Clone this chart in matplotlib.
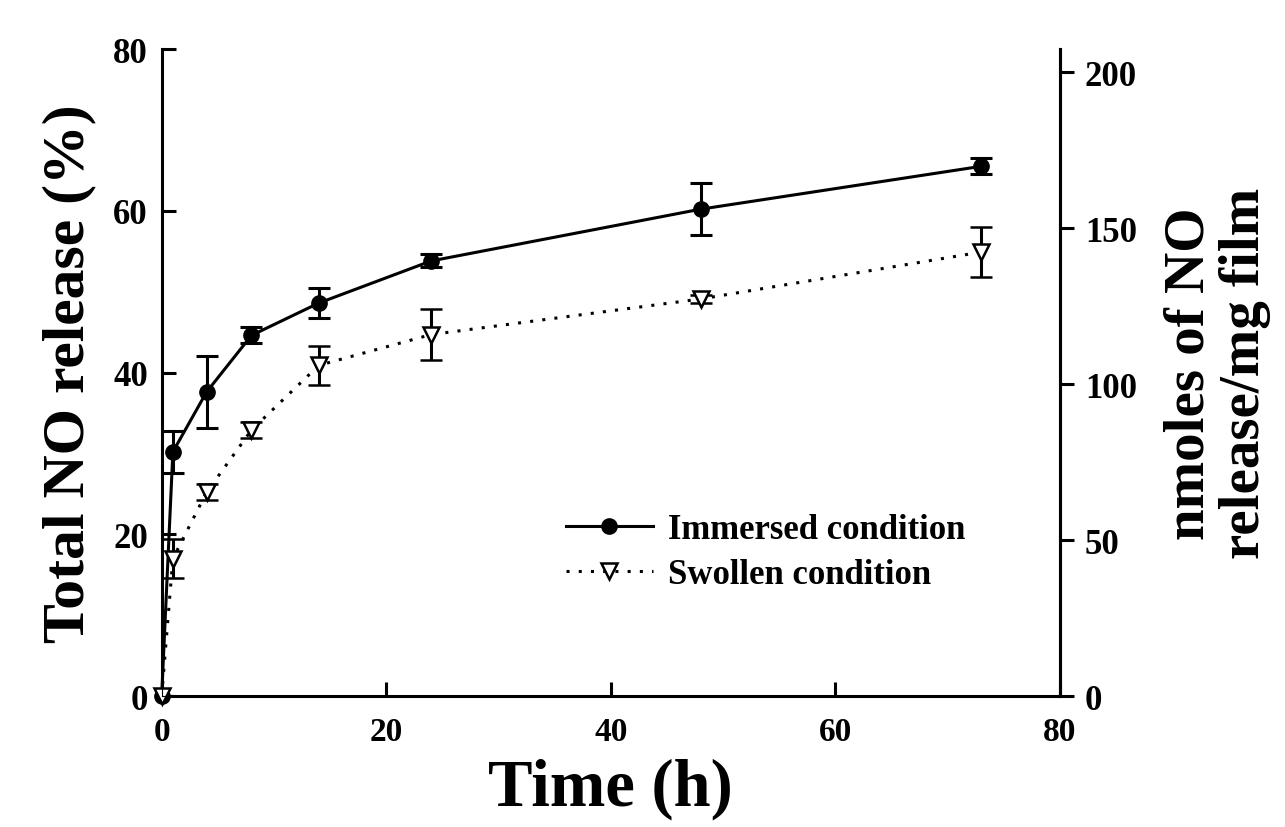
import numpy as np
import matplotlib
matplotlib.use('Agg')
import matplotlib.pyplot as plt
from matplotlib.lines import Line2D

plt.rcParams['font.family'] = ['Liberation Serif', 'DejaVu Serif']
plt.rcParams['font.weight'] = 'bold'

time_h = [0, 1, 4, 8, 14, 24, 48, 73]
immersed = [0, 30.2, 37.6, 44.6, 48.6, 53.8, 60.2, 65.5]
immersed_err = [0, 2.6, 4.4, 1.0, 1.9, 0.8, 3.2, 1.0]
swollen = [0, 17.0, 25.2, 32.9, 40.9, 44.7, 49.1, 54.9]
swollen_err = [0, 2.4, 1.0, 1.0, 2.4, 3.2, 0.5, 3.1]

x_ticks = [0, 20, 40, 60, 80]
y_ticks = [0, 20, 40, 60, 80]
right_ticks = [0, 50, 100, 150, 200]
right_max = 207.4

fig = plt.figure(figsize=(12.85, 8.28), dpi=100)
ax = fig.add_axes([0.1258, 0.158, 0.699, 0.7816])

imm_style = dict(color='black', linestyle='-', linewidth=2.2, marker='o',
                 markersize=11, markerfacecolor='black')
swo_style = dict(color='black', linestyle=(0, (1, 3)), linewidth=2.2, marker='v',
                 markersize=12, markerfacecolor='white', markeredgewidth=1.8)

e1 = ax.errorbar(time_h, immersed, yerr=immersed_err, capsize=8, capthick=2.2,
                 elinewidth=2.2, zorder=3, **imm_style)
e2 = ax.errorbar(time_h, swollen, yerr=swollen_err, capsize=8, capthick=2.2,
                 elinewidth=2.2, zorder=4, **swo_style)
for e in (e1, e2):
    e[0].set_clip_on(False)

ax.set_xlim(0, 80)
ax.set_ylim(0, 80)
ax.set_xticks(x_ticks)
ax.set_yticks(y_ticks)
ax.spines['top'].set_visible(False)
for s in ['left', 'bottom', 'right']:
    ax.spines[s].set_linewidth(2.2)
ax.tick_params(axis='both', direction='in', length=10, width=2.2, pad=10)
ax.tick_params(axis='y', labelsize=25)
ax.tick_params(axis='x', labelsize=24, pad=14)
for lab in ax.get_xticklabels() + ax.get_yticklabels():
    lab.set_fontweight('bold')

ax.set_xlabel('Time (h)', fontsize=48, fontweight='bold', labelpad=8)
ax.set_ylabel('Total NO release (%)', fontsize=43, fontweight='bold', labelpad=12)

ax2 = ax.twinx()
ax2.set_ylim(0, right_max)
ax2.set_yticks(right_ticks)
ax2.spines['top'].set_visible(False)
ax2.spines['right'].set_linewidth(2.2)
ax2.tick_params(axis='y', direction='out', length=10, width=2.2, labelsize=25, pad=8)
for lab in ax2.get_yticklabels():
    lab.set_fontweight('bold')
ax2.set_ylabel('nmoles of NO\nrelease/mg film', fontsize=41, fontweight='bold',
               labelpad=19, linespacing=1.1)

handles = [Line2D([], [], **imm_style), Line2D([], [], **swo_style)]
labels = ['Immersed condition', 'Swollen condition']
ax.legend(handles, labels, loc='lower right', bbox_to_anchor=(0.93, 0.114),
          frameon=False, fontsize=25, handlelength=2.5, labelspacing=0.35,
          handletextpad=0.45)

fig.savefig('out.png', dpi=100)
